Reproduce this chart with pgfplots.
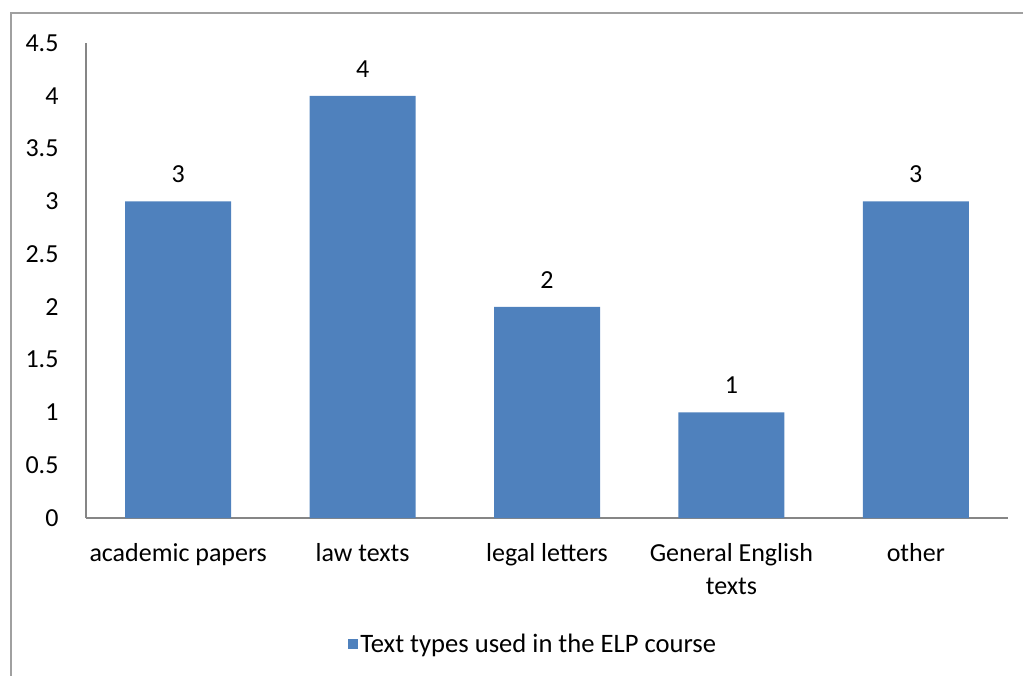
\documentclass[border=0pt]{standalone}
\usepackage{pgfplots}
\pgfplotsset{compat=1.18}
\usepackage{fontspec}
\setmainfont{Carlito}
\definecolor{barblue}{HTML}{4F81BD}
\definecolor{axgray}{HTML}{868686}
\definecolor{framegray}{HTML}{A0A0A0}
\begin{document}
\begin{tikzpicture}[x=1pt,y=1pt]
\path[use as bounding box] (0,0) rectangle (1023,675);
\draw[framegray,line width=1.6pt] (11,-2) -- (11,662) -- (1025,662);
\begin{axis}[
  at={(86pt,157pt)}, anchor=south west,
  scale only axis, width=922pt, height=475pt,
  font=\fontsize{26}{32}\selectfont,
  /pgf/number format/assume math mode=true,
  xmin=-0.5, xmax=4.5, ymin=0, ymax=4.5,
  ytick={0,0.5,...,4.5},
  xtick={0,1,2,3,4},
  xticklabels={academic papers,law texts,legal letters,{General English\\texts},other},
  xticklabel style={align=center, anchor=north, yshift=-22pt, font=\fontsize{26}{33}\selectfont},
  yticklabel style={anchor=east, xshift=-24pt},
  major tick length=0pt,
  axis lines=left, axis line style={-, axgray, line width=1.2pt},
  ybar, bar width=106pt,
  nodes near coords,
  every node near coord/.append style={font=\fontsize{26}{31}\selectfont, yshift=15pt},
  legend style={at={(0.485,-0.265)}, anchor=center, draw=none, font=\fontsize{26.6}{31}\selectfont},
  legend image code/.code={\fill[barblue] (0pt,-5pt) rectangle (10pt,5pt);},
]
\addplot[fill=barblue, draw=none] coordinates {(0,3) (1,4) (2,2) (3,1) (4,3)};
\addlegendentry{Text types used in the ELP course}
\end{axis}
\end{tikzpicture}
\end{document}
